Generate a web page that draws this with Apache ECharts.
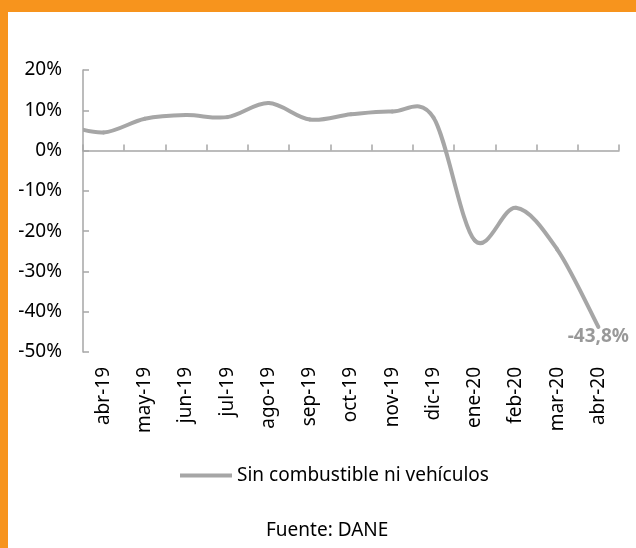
<!DOCTYPE html>
<html>
<head>
<meta charset="utf-8">
<script src="https://cdn.jsdelivr.net/npm/echarts@6/dist/echarts.min.js"></script>
<style>
  html, body { margin: 0; padding: 0; background: #fff; }
  #container { width: 636px; height: 548px; }
</style>
</head>
<body>
<div id="container"></div>
<script>
// months shown on the axis
var categories = ['abr-19', 'may-19', 'jun-19', 'jul-19', 'ago-19', 'sep-19', 'oct-19',
                  'nov-19', 'dic-19', 'ene-20', 'feb-20', 'mar-20', 'abr-20'];
// variacion anual (%)
var values = [4.5, 7.9, 8.8, 8.3, 11.8, 7.7, 9.0, 9.7, 8.2, -22.3, -14.2, -24.5, -43.8];
// month before abr-19, only its clipped tail is visible at the left edge
var prevValue = 6.5;
var seriesName = 'Sin combustible ni vehículos';

var grey = '#a6a6a6';
var font = 'Noto Sans';

var lineData = [[-1, prevValue]];
for (var i = 0; i < values.length; i++) {
  lineData.push([i, values[i]]);
}
var last = values.length - 1;

// smooth line like excel does it (catmull-rom between the points)
function renderSeg(params, api) {
  var n = params.dataInsideLength;
  var i = params.dataIndexInside;
  if (i >= n - 1) return;
  function pt(k) {
    k = Math.max(0, Math.min(n - 1, k));
    return api.coord([api.value(0, k), api.value(1, k)]);
  }
  var p0 = pt(i - 1), p1 = pt(i), p2 = pt(i + 1), p3 = pt(i + 2);
  var cs = params.coordSys;
  return {
    type: 'group',
    clipPath: { type: 'rect', shape: { x: cs.x, y: cs.y - 10, width: cs.width, height: cs.height + 20 } },
    children: [{
      type: 'bezierCurve',
      shape: {
        x1: p1[0], y1: p1[1],
        cpx1: p1[0] + (p2[0] - p0[0]) / 6, cpy1: p1[1] + (p2[1] - p0[1]) / 6,
        cpx2: p2[0] - (p3[0] - p1[0]) / 6, cpy2: p2[1] - (p3[1] - p1[1]) / 6,
        x2: p2[0], y2: p2[1]
      },
      style: { stroke: grey, lineWidth: 4, fill: null, lineCap: 'round' }
    }]
  };
}

var dom = document.getElementById('container');
var myChart = echarts.init(dom);
var option = {
  animation: false,
  backgroundColor: '#fff',
  textStyle: { fontFamily: font },
  graphic: [
    { type: 'rect', left: 0, top: 0, shape: { width: 636, height: 12 }, style: { fill: '#f7941d' } },
    { type: 'rect', left: 0, top: 0, shape: { width: 8, height: 548 }, style: { fill: '#f7941d' } },
    { type: 'text', left: 266, top: 521, style: { text: 'Fuente: DANE', font: '19px "Noto Sans"', fill: '#000' } }
  ],
  legend: {
    left: 180,
    top: 466,
    padding: 0,
    itemWidth: 52,
    itemHeight: 4,
    data: [{ name: seriesName, icon: 'rect' }],
    textStyle: { fontFamily: font, fontSize: 19, color: '#000' }
  },
  grid: { left: 83, right: 17, top: 70, bottom: 196, containLabel: false },
  xAxis: [
    {
      type: 'category',
      position: 'bottom',
      data: categories,
      axisLine: { show: false, onZero: false },
      axisTick: { show: false },
      axisLabel: { rotate: 90, margin: 15, fontFamily: font, fontSize: 19, color: '#000', interval: 0 }
    },
    {
      type: 'category',
      position: 'top',
      data: categories,
      axisLine: { show: true, onZero: true, lineStyle: { color: grey, width: 1.5 } },
      axisTick: { show: true, inside: false, interval: 0, length: 6, lineStyle: { color: grey, width: 1.5 } },
      axisLabel: { show: false },
      splitLine: { show: false }
    },
    {
      type: 'value',
      min: -0.5,
      max: 12.5,
      show: false
    }
  ],
  yAxis: {
    type: 'value',
    min: -50,
    max: 20,
    interval: 10,
    axisLine: { show: true, onZero: false, lineStyle: { color: grey, width: 1.5 } },
    axisTick: { show: true, inside: true, length: 6, lineStyle: { color: grey, width: 1.5 } },
    splitLine: { show: false },
    axisLabel: {
      margin: 21,
      fontFamily: font,
      fontSize: 19,
      color: '#000',
      formatter: function (v) { return v + '%'; }
    }
  },
  series: [
    {
      name: seriesName,
      type: 'custom',
      xAxisIndex: 2,
      data: lineData,
      renderItem: renderSeg,
      itemStyle: { color: grey }
    },
    {
      name: 'ultimo',
      type: 'scatter',
      xAxisIndex: 2,
      data: [[last, values[last]]],
      symbolSize: 1,
      itemStyle: { color: 'rgba(0,0,0,0)' },
      label: {
        show: true,
        position: 'bottom',
        distance: 0,
        fontFamily: font,
        fontSize: 19,
        fontWeight: 700,
        color: '#808080',
        formatter: function (p) {
          return p.value[1].toFixed(1).replace('.', ',') + '%';
        }
      }
    }
  ]
};
myChart.setOption(option, true);
</script>
</body>
</html>
